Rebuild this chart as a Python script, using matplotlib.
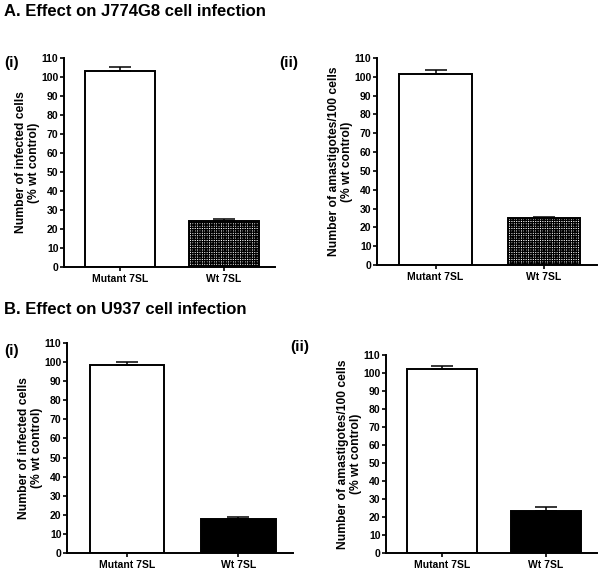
import matplotlib
matplotlib.use("Agg")
import matplotlib.pyplot as plt

plt.rcParams['font.family'] = ['Liberation Sans', 'DejaVu Sans']
plt.rcParams['font.weight'] = 'bold'
plt.rcParams['hatch.linewidth'] = 0.9

categories = ["Mutant 7SL", "Wt 7SL"]
yticks = list(range(0, 111, 10))

a1_values = [103.3, 24.4]
a1_err = [2.0, 0.9]
a2_values = [101.5, 25.0]
a2_err = [2.3, 0.7]
b1_values = [98.6, 17.6]
b1_err = [1.6, 1.0]
b2_values = [102.2, 23.5]
b2_err = [1.7, 2.1]

ylabel_infected = "Number of infected cells\n(% wt control)"
ylabel_amast = "Number of amastigotes/100 cells\n(% wt control)"

W, H = 604, 572
fig = plt.figure(figsize=(W / 100, H / 100), dpi=100)

def px_axes(left, right, top, bottom):
    return fig.add_axes([left / W, 1 - bottom / H, (right - left) / W, (bottom - top) / H])

def panel(ax, values, err, ylabel, wt_style):
    x = [0, 1]
    colors = ['white', 'white' if wt_style == 'check' else 'black']
    bars = ax.bar(x, values, width=0.67, color=colors, edgecolor='black',
                  linewidth=1.4, zorder=2)
    if wt_style == 'check':
        bars[1].set_hatch('+++++++')
    ax.errorbar(x, values, yerr=[[0, 0], err], fmt='none', ecolor='black',
                elinewidth=1.1, capsize=8, capthick=1.1, zorder=3)
    ax.set_xlim(-0.54, 1.49)
    ax.set_ylim(0, 110)
    ax.set_yticks(yticks)
    ax.set_xticks(x)
    ax.set_xticklabels(categories, fontsize=7.5, fontweight='bold')
    ax.tick_params(axis='y', labelsize=7.5, length=3, width=1.2, pad=1)
    ax.tick_params(axis='x', length=3, width=1.2, pad=2)
    for lab in ax.get_yticklabels():
        lab.set_fontweight('bold')
    for s in ['top', 'right']:
        ax.spines[s].set_visible(False)
    for s in ['left', 'bottom']:
        ax.spines[s].set_linewidth(1.4)
    ax.set_ylabel(ylabel, fontsize=8.7, fontweight='bold', labelpad=1, linespacing=1.1)

ax1 = px_axes(64, 275, 58, 267)
panel(ax1, a1_values, a1_err, ylabel_infected, 'check')
ax2 = px_axes(377, 597, 58, 265)
panel(ax2, a2_values, a2_err, ylabel_amast, 'check')
ax3 = px_axes(67, 293, 343, 553)
panel(ax3, b1_values, b1_err, ylabel_infected, 'solid')
ax4 = px_axes(386, 597, 355, 553)
panel(ax4, b2_values, b2_err, ylabel_amast, 'solid')

def ftext(x, y, s, size):
    fig.text(x / W, 1 - y / H, s, fontsize=size, fontweight='bold', va='center', ha='left')

ftext(4, 12, "A. Effect on J774G8 cell infection", 12)
ftext(4, 63, "(i)", 11)
ftext(279, 63, "(ii)", 11)
ftext(4, 309, "B. Effect on U937 cell infection", 12)
ftext(4, 351, "(i)", 11)
ftext(290, 347, "(ii)", 11)

fig.savefig("out.png", dpi=100)
